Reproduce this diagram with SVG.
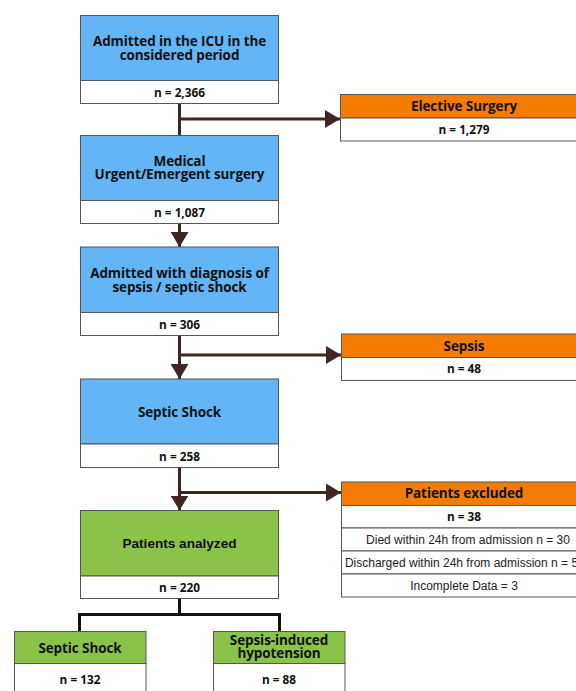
<svg xmlns="http://www.w3.org/2000/svg" width="576" height="691" viewBox="0 0 576 691">
<defs>
<style>
.box{stroke:#555;stroke-width:1}
.blue{fill:#64b5f6}
.orange{fill:#f57c00}
.green{fill:#8bc34a}
.white{fill:#fff}
.t{font-family:"Open Sans","DejaVu Sans",sans-serif;font-weight:700;font-size:13.5px;fill:#111;text-anchor:middle;letter-spacing:-0.1px}
.n{font-family:"Open Sans","DejaVu Sans",sans-serif;font-weight:700;font-size:11.8px;fill:#111;text-anchor:middle}
.a{font-family:"Liberation Sans",Arial,sans-serif;font-size:12px;fill:#222;text-anchor:middle}
.ab{font-family:"Liberation Sans",Arial,sans-serif;font-weight:700;font-size:13.6px;fill:#111;text-anchor:middle}
.c{fill:none;stroke:#3e2723;stroke-width:3}
.k{fill:none;stroke:#111;stroke-width:3}
</style>
<marker id="ah" markerUnits="userSpaceOnUse" markerWidth="16" markerHeight="18" refX="15" refY="9" orient="auto">
<path d="M0,0 L15,9 L0,18 Z" fill="#3e2723"/>
</marker>
</defs>

<g id="connectors">
<path class="c" d="M179.5,104 V135"/>
<path class="c" d="M179.5,119 H340" marker-end="url(#ah)"/>
<path class="c" d="M179.5,223 V247" marker-end="url(#ah)"/>
<path class="c" d="M179.5,336 V379" marker-end="url(#ah)"/>
<path class="c" d="M179.5,355 H341" marker-end="url(#ah)"/>
<path class="c" d="M179.5,467 V510.5" marker-end="url(#ah)"/>
<path class="c" d="M179.5,492.5 H341" marker-end="url(#ah)"/>
<path class="k" d="M179.5,598 V614.5 M79.5,632 V614.5 H279.5 V632"/>
</g>

<g id="node-admitted">
<rect class="box blue" x="80.5" y="15.5" width="198" height="65"/>
<rect class="box white" x="80.5" y="80.5" width="198" height="23"/>
<text class="t" x="179.5" y="46.3">Admitted in the ICU in the</text>
<text class="t" x="179.5" y="59.6">considered period</text>
<text class="n" x="179.5" y="96.5">n = 2,366</text>
</g>

<g id="node-elective">
<rect class="box orange" x="340.5" y="94.5" width="250" height="23.5"/>
<rect class="box white" x="340.5" y="118" width="250" height="23"/>
<text class="t" x="464" y="111">Elective Surgery</text>
<text class="n" x="464" y="133.5">n = 1,279</text>
</g>

<g id="node-medical">
<rect class="box blue" x="80.5" y="135.5" width="198" height="65"/>
<rect class="box white" x="80.5" y="200.5" width="198" height="23"/>
<text class="t" x="179.5" y="165.8">Medical</text>
<text class="t" x="179.5" y="179.2">Urgent/Emergent surgery</text>
<text class="n" x="179.5" y="216.5">n = 1,087</text>
</g>

<g id="node-diagnosis">
<rect class="box blue" x="80.5" y="247" width="198" height="65.5"/>
<rect class="box white" x="80.5" y="312.5" width="198" height="23"/>
<text class="t" x="179.5" y="278.3">Admitted with diagnosis of</text>
<text class="t" x="179.5" y="291.7">sepsis / septic shock</text>
<text class="n" x="179.5" y="329">n = 306</text>
</g>

<g id="node-sepsis">
<rect class="box orange" x="341.5" y="334" width="250" height="23.5"/>
<rect class="box white" x="341.5" y="357.5" width="250" height="23"/>
<text class="t" x="464" y="350.5">Sepsis</text>
<text class="n" x="464" y="373">n = 48</text>
</g>

<g id="node-septic-shock">
<rect class="box blue" x="80.5" y="379" width="198" height="65"/>
<rect class="box white" x="80.5" y="444" width="198" height="23.5"/>
<text class="t" x="179.5" y="416.5">Septic Shock</text>
<text class="n" x="179.5" y="460.5">n = 258</text>
</g>

<g id="node-excluded">
<rect class="box orange" x="341.5" y="482" width="250" height="23.5"/>
<rect class="box white" x="341.5" y="505.5" width="250" height="22.5"/>
<rect class="box white" x="341.5" y="528" width="250" height="23"/>
<rect class="box white" x="341.5" y="551" width="250" height="23"/>
<rect class="box white" x="341.5" y="574" width="250" height="23"/>
<text class="t" x="464" y="497.5">Patients excluded</text>
<text class="n" x="464" y="521">n = 38</text>
<text class="a" x="468" y="543.7">Died within 24h from admission n = 30</text>
<text class="a" x="461.5" y="566.7">Discharged within 24h from admission n = 5</text>
<text class="a" x="464" y="589.7">Incomplete Data = 3</text>
</g>

<g id="node-analyzed">
<rect class="box green" x="80.5" y="510.5" width="198" height="65.5"/>
<rect class="box white" x="80.5" y="576" width="198" height="22.5"/>
<text class="ab" x="179.5" y="547.5">Patients analyzed</text>
<text class="n" x="179.5" y="591.5">n = 220</text>
</g>

<g id="node-bottom-septic-shock">
<rect class="box green" x="14.5" y="631.5" width="131.5" height="32"/>
<rect class="box white" x="14.5" y="663.5" width="131.5" height="40"/>
<text class="t" x="80" y="652.5">Septic Shock</text>
<text class="n" x="80" y="684">n = 132</text>
</g>

<g id="node-hypotension">
<rect class="box green" x="213.5" y="631.5" width="131.5" height="32"/>
<rect class="box white" x="213.5" y="663.5" width="131.5" height="40"/>
<text class="t" x="279" y="645">Sepsis-induced</text>
<text class="t" x="279" y="657.7">hypotension</text>
<text class="n" x="279" y="684">n = 88</text>
</g>
</svg>
